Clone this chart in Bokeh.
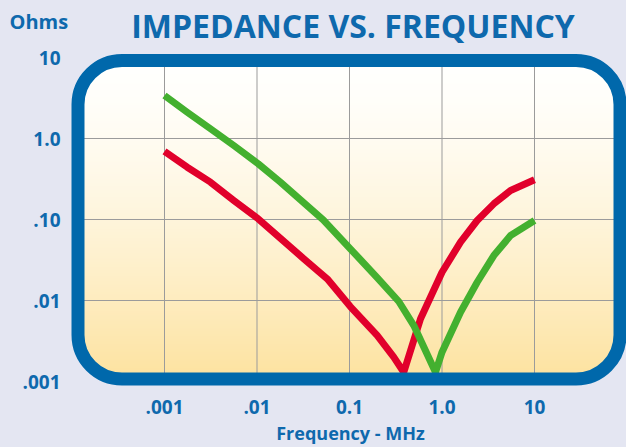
import numpy as np
from bokeh.plotting import figure
from bokeh.models import Label, BoxAnnotation, Range1d, LogScale
from bokeh.core.properties import value
from bokeh.embed import file_html
from bokeh.resources import INLINE

# ---- values: frequency (MHz) and impedance (ohms) ----
red_freq = [0.001, 0.00176, 0.00314, 0.00561, 0.0103, 0.0321, 0.0574, 0.102, 0.199,
            0.301, 0.386, 0.586, 1.0, 1.585, 2.40, 3.63, 5.51, 10.0]
red_ohms = [0.692, 0.442, 0.289, 0.172, 0.102, 0.0327, 0.0185, 0.00843, 0.00370,
            0.00200, 0.0013, 0.00594, 0.0223, 0.0525, 0.0972, 0.156, 0.228, 0.309]

green_freq = [0.001, 0.00176, 0.00314, 0.00561, 0.0103, 0.0179, 0.052, 0.102, 0.199,
              0.341, 0.496, 0.851, 1.0, 1.585, 2.40, 3.63, 5.51, 10.0]
green_ohms = [3.40, 2.11, 1.32, 0.820, 0.487, 0.289, 0.0991, 0.0435, 0.0192,
              0.00972, 0.00491, 0.0013, 0.0023, 0.00717, 0.0168, 0.0359, 0.0634, 0.097]

x_ticks = [0.001, 0.01, 0.1, 1.0, 10.0]
x_tick_labels = [".001", ".01", "0.1", "1.0", "10"]
y_ticks = [0.001, 0.01, 0.1, 1.0, 10.0]
y_tick_labels = [".001", ".01", ".10", "1.0", "10"]

title_text = "IMPEDANCE VS. FREQUENCY"
y_title = "Ohms"
x_title = "Frequency - MHz"

# ---- styling ----
BG = "#e4e6f2"
BLUE = "#0068ab"
TXT = "#0e69ad"
RED = "#e1002b"
GREEN = "#43b02f"
GRID = "#9b9b9b"
FONT = "Open Sans"

W, H = 626, 447
PPD_X, PPD_Y = 92.5, 81.0            # pixels per decade
XLO = -3 - 164 / PPD_X               # canvas-wide log10 ranges
XHI = XLO + W / PPD_X
YHI = 138 / PPD_Y
YLO = YHI - H / PPD_Y


def PX(px):
    """canvas pixel column -> data x"""
    return 10 ** (XLO + px / PPD_X)


def PY(py):
    """canvas pixel row (from top) -> data y"""
    return 10 ** (YHI - py / PPD_Y)


p = figure(width=W, height=H, x_axis_type="log", y_axis_type="log",
           x_axis_location=None, y_axis_location=None,
           x_range=Range1d(10 ** XLO, 10 ** XHI), y_range=Range1d(10 ** YLO, 10 ** YHI),
           output_backend="svg", toolbar_location=None, min_border=0,
           background_fill_color=BG, border_fill_color=BG, outline_line_color=None)
p.x_scale = LogScale()
p.y_scale = LogScale()
p.title.visible = False
p.grid.visible = False

# gradient panel inside the rounded frame (raster, lowest level)
BX0, BY0, BX1, BY1 = 71, 53, 626, 385          # outer extent of the rounded border
FW, FH = BX1 - BX0, BY1 - BY0
yy, xx = np.mgrid[0:FH, 0:FW] + 0.5
L, R, T, B, r = 10, FW - 10, 11, FH - 10, 41
cx = np.clip(xx, L + r, R - r)
cy = np.clip(yy, T + r, B - r)
inside = (xx >= L) & (xx <= R) & (yy >= T) & (yy <= B) & ((xx - cx) ** 2 + (yy - cy) ** 2 <= r * r)
t = np.clip((yy - 14) / (FH - 13 - 14), 0, 1) ** 1.4
top_c = np.array([255, 255, 253], dtype=float)
bot_c = np.array([253, 227, 162], dtype=float)
col = top_c[None, None, :] * (1 - t[..., None]) + bot_c[None, None, :] * t[..., None]
img = np.zeros((FH, FW, 4), dtype=np.uint8)
img[..., :3] = np.round(col).astype(np.uint8)
img[..., 3] = np.where(inside, 255, 0).astype(np.uint8)
img = np.ascontiguousarray(img[::-1])
p.image_rgba(image=[img.view(np.uint32).reshape(FH, FW)],
             x=PX(BX0), y=PY(BY1), dw=PX(BX1) - PX(BX0), dh=PY(BY0) - PY(BY1),
             level="image")

# grid lines at the tick values, kept inside the rounded frame
p.segment(x0=x_ticks, x1=x_ticks, y0=[PY(60)] * len(x_ticks), y1=[PY(378)] * len(x_ticks),
          line_color=GRID, line_width=1, level="underlay")
gy = y_ticks[1:-1]
p.segment(x0=[PX(78)] * len(gy), x1=[PX(619)] * len(gy), y0=gy, y1=gy,
          line_color=GRID, line_width=1, level="underlay")

# curves
p.line(red_freq, red_ohms, line_color=RED, line_width=7, line_join="round")
p.line(green_freq, green_ohms, line_color=GREEN, line_width=7, line_join="round")

# rounded blue frame
border = BoxAnnotation(left=PX(77.5), right=PX(619.5), top=PY(60), bottom=PY(378.5),
                       fill_color=None, fill_alpha=0, line_color=BLUE, line_alpha=1.0,
                       line_width=13, border_radius=44, level="annotation")
p.add_layout(border)

# tick labels
p.text(x=x_ticks, y=[PY(406.5)] * len(x_ticks), text=x_tick_labels,
       text_font=value(FONT), text_font_style="bold", text_font_size=value("19px"),
       text_color=TXT, text_align="center", text_baseline="middle")
p.text(x=[PX(60)] * len(y_ticks), y=y_ticks, text=y_tick_labels,
       text_font=value(FONT), text_font_style="bold", text_font_size=value("19px"),
       text_color=TXT, text_align="right", text_baseline="middle")

# titles (anchor rows compensated for how the label baseline is placed)
p.add_layout(Label(x=PX(352.5), y=PY(25), text=title_text,
                   text_font=FONT, text_font_style="bold", text_font_size="32px",
                   text_color=TXT, text_align="center", text_baseline="alphabetic"))
p.add_layout(Label(x=PX(9), y=PY(20.5), text=y_title,
                   text_font=FONT, text_font_style="bold", text_font_size="20px",
                   text_color=TXT, text_align="left", text_baseline="alphabetic"))
p.add_layout(Label(x=PX(350), y=PY(432), text=x_title,
                   text_font=FONT, text_font_style="bold", text_font_size="18px",
                   text_color=TXT, text_align="center", text_baseline="alphabetic"))

html = file_html(p, INLINE)
html = html.replace("<head>", "<head><style>html,body{background-color:%s;}</style>" % BG, 1)
open("out.html", "w").write(html)
